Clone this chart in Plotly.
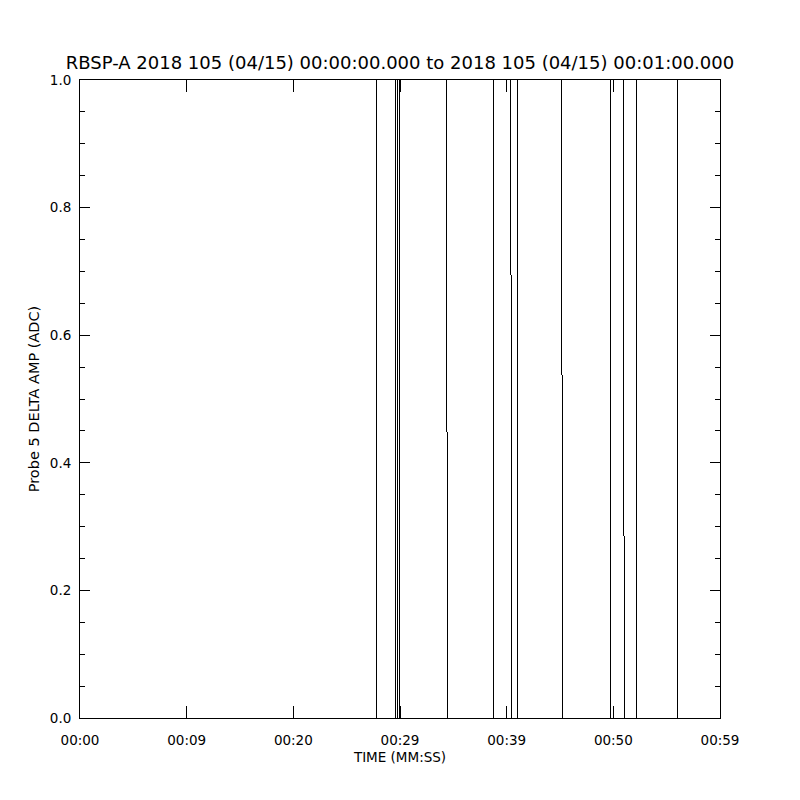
import plotly.graph_objects as go

# Transition times (seconds after 00:00:00).
# Each transition: time where the line meets 1.0 and time where it meets 0.0
trans_top = [27.78, 29.62, 29.81, 29.93, 34.38, 38.75, 40.38, 41.00, 45.16, 49.78, 50.93, 52.15, 56.00]
trans_bot = [27.78, 29.62, 29.81, 30.00, 34.43, 38.75, 40.47, 41.00, 45.22, 49.78, 51.03, 52.15, 56.00]
t_start, t_end = 0.0, 60.0

tick_vals = [0, 10, 20, 30, 40, 50, 60]
tick_text = ["00:00", "00:09", "00:20", "00:29", "00:39", "00:50", "00:59"]

title = "RBSP-A 2018 105 (04/15) 00:00:00.000 to 2018 105 (04/15) 00:01:00.000"

# Transitions of the 0/1 signal (flat stretches lie on the frame at 0 and 1)
xs, ys = [], []
for tt, tb in zip(trans_top, trans_bot):
    xs += [tt, tb, None]
    ys += [1, 0, None]

fig = go.Figure()
fig.add_trace(go.Scatter(x=xs, y=ys, mode="lines", connectgaps=False,
                         line=dict(color="black", width=1), hoverinfo="skip",
                         showlegend=False))

font = dict(family="DejaVu Sans", size=13.5, color="black")
fig.update_layout(
    width=800, height=800,
    margin=dict(l=80, r=80, t=80, b=82, autoexpand=False),
    paper_bgcolor="white", plot_bgcolor="white",
    font=font,
    title=dict(text=title, x=0.5, xanchor="center", y=1 - 63 / 800, yanchor="middle",
               yref="container", font=dict(family="DejaVu Sans", size=18, color="black")),
    xaxis=dict(range=[t_start, t_end], tickvals=tick_vals, ticktext=tick_text,
               showgrid=False, zeroline=False, showline=True, linecolor="black", linewidth=1,
               mirror="allticks", ticks="inside", ticklen=12, tickcolor="black", tickwidth=1,
               ticklabelstandoff=10,
               title=dict(text="TIME (MM:SS)", standoff=5, font=dict(size=13.5))),
    yaxis=dict(range=[0, 1], dtick=0.2, tickformat=".1f",
               showgrid=False, zeroline=False, showline=True, linecolor="black", linewidth=1,
               mirror="allticks", ticks="inside", ticklen=10, tickcolor="black", tickwidth=1,
               ticklabelstandoff=5,
               minor=dict(ticks="inside", dtick=0.05, ticklen=5, tickcolor="black", showgrid=False),
               title=dict(text="Probe 5 DELTA AMP (ADC)", standoff=6, font=dict(size=14.5))),
)

post = """
document.body.style.margin='0';
document.querySelectorAll('.scatterlayer path, path.xtick, path.ytick, path.crisp').forEach(function(p){p.style.shapeRendering='crispEdges';});
"""
fig.write_html("out.html", post_script=post, config={"displayModeBar": False, "staticPlot": True})
